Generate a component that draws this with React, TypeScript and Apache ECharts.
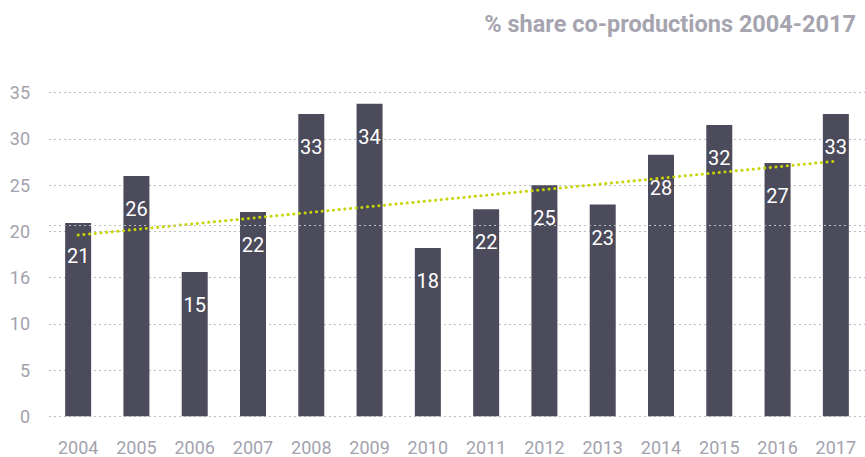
import React, { useEffect, useRef } from "react";
import * as echarts from "echarts";

const years = ["2004", "2005", "2006", "2007", "2008", "2009", "2010", "2011", "2012", "2013", "2014", "2015", "2016", "2017"];
const barHeights = [20.9, 26.0, 15.6, 22.1, 32.7, 33.8, 18.2, 22.4, 25.0, 22.9, 28.3, 31.5, 27.4, 32.7];
const barLabels = ["21", "26", "15", "22", "33", "34", "18", "22", "25", "23", "28", "32", "27", "33"];
const trendStart = 19.6;
const trendEnd = 27.6;
const yTickLabels = ["0", "5", "10", "16", "20", "25", "30", "35"];
const extraGridValue = 20.7;
const titleText = "% share co-productions 2004-2017";

export default function App() {
  const ref = useRef<HTMLDivElement>(null);
  useEffect(() => {
    if (!ref.current) return;
    const chart = echarts.init(ref.current, null, { renderer: "svg" });
    const trend = years.map((_, i) => (i === 0 ? trendStart : i === years.length - 1 ? trendEnd : null));
    const gridLine = { color: "#bdbdc3", width: 1.2, type: [2, 3] as any };
    chart.setOption({
      animation: false,
      backgroundColor: "#ffffff",
      title: {
        text: titleText,
        right: 4,
        top: 7,
        textStyle: { fontFamily: "Roboto", fontSize: 23.5, fontWeight: "bold", color: "#a5a4af" },
      },
      grid: { left: 49, width: 817, top: 92.7, bottom: 40.7, containLabel: false },
      xAxis: {
        type: "category",
        data: years,
        axisLine: { show: false },
        axisTick: { show: false },
        axisLabel: { fontFamily: "Roboto", fontSize: 18, color: "#a3a2ae", margin: 22 },
      },
      yAxis: {
        type: "value",
        min: 0,
        max: 35,
        interval: 5,
        axisLine: { show: false },
        axisTick: { show: false },
        axisLabel: {
          fontFamily: "Roboto",
          fontSize: 18,
          color: "#a3a2ae",
          margin: 19,
          formatter: (v: number) => yTickLabels[Math.round(v / 5)] ?? String(v),
        },
        splitLine: { show: true, lineStyle: gridLine },
      },
      series: [
        {
          type: "bar",
          data: barHeights,
          barWidth: 26,
          itemStyle: { color: "#4c4b5b" },
          label: {
            show: true,
            position: "insideTop",
            distance: 23,
            fontFamily: "Roboto",
            fontSize: 20,
            fontWeight: "normal",
            color: "#ffffff",
            formatter: (p: any) => barLabels[p.dataIndex],
          },
          markLine: {
            silent: true,
            symbol: "none",
            label: { show: false },
            lineStyle: gridLine,
            data: [{ yAxis: extraGridValue }],
          },
          z: 2,
        },
        {
          type: "line",
          data: trend,
          connectNulls: true,
          symbol: "none",
          lineStyle: { color: "#c8d400", width: 3, type: [0.1, 5.6] as any, cap: "round" },
          z: 3,
        },
      ],
    });
    return () => chart.dispose();
  }, []);
  return <div ref={ref} style={{ position: "fixed", left: 0, top: 0, width: 865, height: 457 }} />;
}
